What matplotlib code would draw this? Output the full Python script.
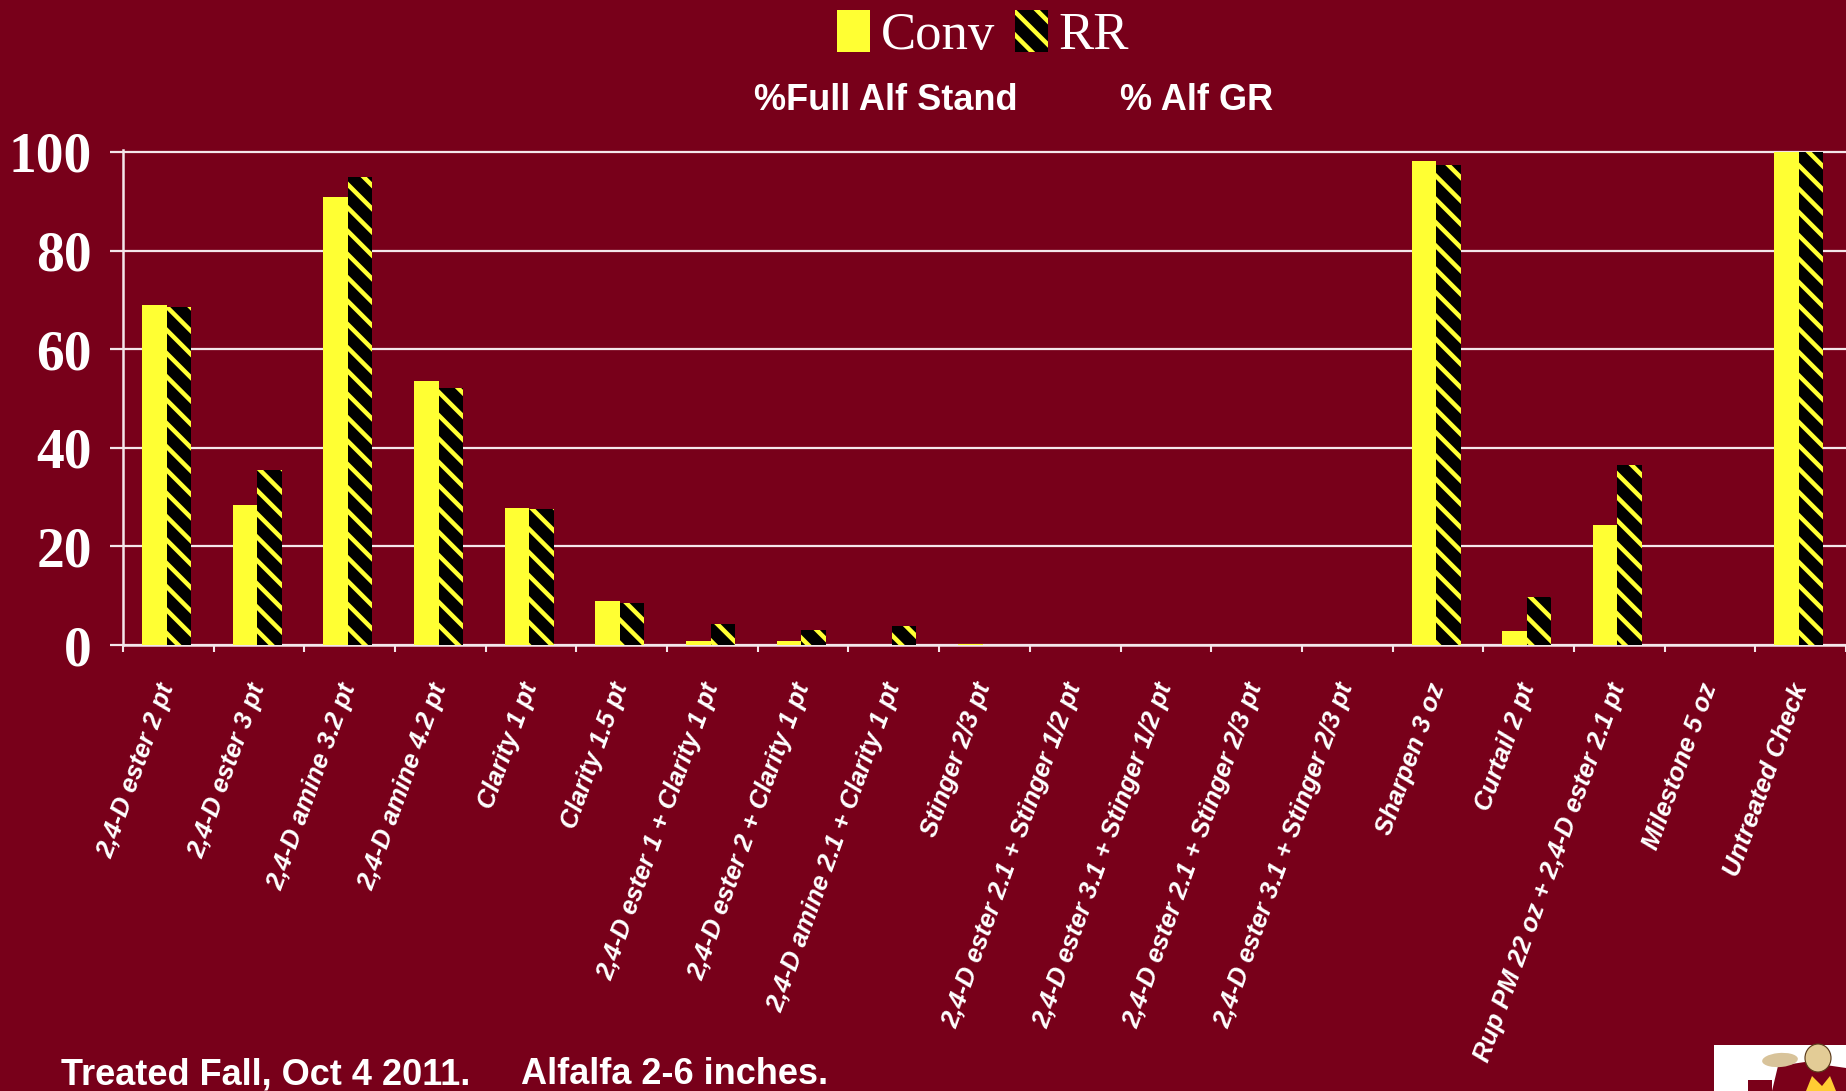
import matplotlib
matplotlib.use("Agg")
import matplotlib.pyplot as plt
import matplotlib.transforms as mtransforms
from matplotlib.patches import Rectangle, Ellipse, Polygon
import numpy as np

categories = [
    "2,4-D ester 2 pt", "2,4-D ester 3 pt", "2,4-D amine 3.2 pt", "2,4-D amine 4.2 pt",
    "Clarity 1 pt", "Clarity 1.5 pt", "2,4-D ester 1 + Clarity 1 pt",
    "2,4-D ester 2 + Clarity 1 pt", "2,4-D amine 2.1 + Clarity 1 pt", "Stinger 2/3 pt",
    "2,4-D ester 2.1 + Stinger 1/2 pt", "2,4-D ester 3.1 + Stinger 1/2 pt",
    "2,4-D ester 2.1 + Stinger 2/3 pt", "2,4-D ester 3.1 + Stinger 2/3 pt",
    "Sharpen 3 oz", "Curtail 2 pt", "Rup PM 22 oz + 2,4-D ester 2.1 pt",
    "Milestone 5 oz", "Untreated Check",
]
conv = [68.9, 28.4, 90.9, 53.6, 27.7, 9.0, 0.9, 0.9, 0.0, 0.3, 0.0, 0.0, 0.0, 0.0,
        98.2, 2.8, 24.4, 0.0, 99.9]
rr = [68.6, 35.5, 94.9, 52.2, 27.5, 8.5, 4.2, 3.1, 3.8, 0.0, 0.0, 0.0, 0.0, 0.0,
      97.4, 9.8, 36.5, 0.0, 99.9]
yticks = [0, 20, 40, 60, 80, 100]
series_names = ["Conv", "RR"]

BG = "#78001a"
YEL = "#ffff33"
GRID = "#f4e6ea"
W, H = 1846, 1091
DPI = 140
k = 100 / DPI  # point sizes were tuned for 100 dpi

plt.rcParams["hatch.linewidth"] = 2.3

fig = plt.figure(figsize=(W / DPI, H / DPI), dpi=DPI, facecolor=BG)
ax_left = 123 / W
ax_bottom = 1 - 645 / H
top_px = 645 - 100.5 * 4.93
ax = fig.add_axes([ax_left, ax_bottom, 1 - ax_left, (645 - top_px) / H])
ax.set_facecolor(BG)

x = np.arange(len(categories))
bw = 0.27
ax.bar(x - 0.155, conv, width=bw, color=YEL, linewidth=0, zorder=3, label=series_names[0])
ax.bar(x + 0.115, rr, width=bw, facecolor="black", edgecolor=YEL, hatch="\\\\",
       linewidth=0, zorder=3, label=series_names[1])

ax.set_xlim(-0.5, len(categories) - 0.5)
ax.set_ylim(0, 100.5)
ax.set_yticks(yticks)
ax.set_yticklabels([str(v) for v in yticks], fontfamily="Liberation Serif",
                   fontweight="bold", fontsize=40 * k, color="white")
ax.yaxis.grid(True, color=GRID, linewidth=1.6 * k, zorder=1)
ax.set_axisbelow(True)

ax.set_xticks(x)
ax.set_xticks(np.arange(len(categories) + 1) - 0.5, minor=True)
ax.set_xticklabels(categories, rotation=70, ha="right", va="center",
                   rotation_mode="anchor", fontfamily="Liberation Sans",
                   fontweight="bold", fontstyle="italic", fontsize=18.5 * k, color="white")
offset = mtransforms.ScaledTranslation(-5 / DPI, 0, fig.dpi_scale_trans)
for lab in ax.get_xticklabels():
    lab.set_transform(lab.get_transform() + offset)

ax.tick_params(axis="x", which="major", length=0, pad=28 * k)
ax.tick_params(axis="x", which="minor", length=5 * k, width=1.5 * k, color=GRID,
               direction="out")
ax.tick_params(axis="y", length=9.5 * k, width=1.6 * k, color=GRID, direction="out",
               pad=13 * k)

for s in ["top", "right"]:
    ax.spines[s].set_visible(False)
for s in ["left", "bottom"]:
    ax.spines[s].set_color(GRID)
    ax.spines[s].set_linewidth(1.8 * k)

# legend
leg = fig.legend(loc="center", bbox_to_anchor=(983 / W, 1 - 35 / H), ncol=2,
                 frameon=False, handlelength=0.62, handleheight=0.85,
                 handletextpad=0.2, columnspacing=0.38,
                 prop={"family": "Liberation Serif", "size": 38 * k})
for t in leg.get_texts():
    t.set_color("white")

fs2 = 26 * k
fig.text(754 / W, 1 - 100 / H, "%Full Alf Stand", ha="left", va="center",
         fontfamily="Liberation Sans", fontweight="bold", fontsize=fs2, color="white")
fig.text(1120 / W, 1 - 100 / H, "% Alf GR", ha="left", va="center",
         fontfamily="Liberation Sans", fontweight="bold", fontsize=fs2, color="white")

fig.text(61 / W, 7 / H, "Treated Fall, Oct 4 2011.", ha="left", va="baseline",
         fontfamily="Liberation Sans", fontweight="bold", fontsize=fs2, color="white")
fig.text(521 / W, 7 / H, "Alfalfa 2-6 inches.", ha="left", va="baseline",
         fontfamily="Liberation Sans", fontweight="bold", fontsize=fs2, color="white")

# logo box (bottom-right)
tf = fig.transFigure
def fx(px):
    return px / W
def fy(py):
    return 1 - py / H
fig.add_artist(Rectangle((fx(1714), 0), fx(W) - fx(1714), fy(1045), transform=tf,
                         facecolor="white", edgecolor="none", zorder=10))
fig.add_artist(Rectangle((fx(1748), 0), fx(1772) - fx(1748), fy(1080), transform=tf,
                         facecolor="#7a0019", edgecolor="none", zorder=11))
fig.add_artist(Polygon([(fx(1772), 0), (fx(1778), fy(1066)), (fx(1805), fy(1062)),
                        (fx(1846), fy(1068)), (fx(1846), 0)], closed=True, transform=tf,
                       facecolor="#7a0019", edgecolor="none", zorder=11))
fig.add_artist(Ellipse((fx(1780), fy(1060)), fx(36), 14 / H, angle=10, transform=tf,
                       facecolor="#d8c39a", edgecolor="none", zorder=12))
fig.add_artist(Ellipse((fx(1818), fy(1058)), fx(26), 28 / H, transform=tf,
                       facecolor="#e3cc96", edgecolor="#5a3a1a", linewidth=0.6, zorder=12))
fig.add_artist(Polygon([(fx(1806), fy(1091)), (fx(1812), fy(1076)), (fx(1822), fy(1086)),
                        (fx(1830), fy(1076)), (fx(1836), fy(1091))], closed=True,
                       transform=tf, facecolor="#ffcc33", edgecolor="none", zorder=13))

fig.savefig("out.png", dpi=DPI, facecolor=BG)
